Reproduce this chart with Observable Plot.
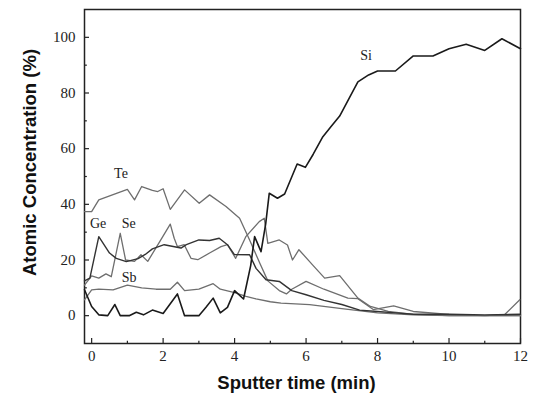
<!DOCTYPE html>
<html><head><meta charset="utf-8">
<script src="https://cdn.jsdelivr.net/npm/d3@7"></script>
<script src="https://cdn.jsdelivr.net/npm/@observablehq/plot@0.6"></script>
<style>body{margin:0;background:#fff}</style>
</head><body><div id="chart"></div>
<script>
// Sputter time (min) and atomic concentration (%) per element
const siT = [-0.2,0,0.2,0.45,0.65,0.8,1.05,1.25,1.45,1.7,2.0,2.4,2.6,3.0,3.2,3.4,3.6,3.8,4.0,4.25,4.45,4.56,4.74,4.87,4.97,5.2,5.4,5.75,5.98,6.2,6.47,6.7,6.94,7.2,7.45,7.75,8.0,8.5,9.0,9.55,10.0,10.48,11.0,11.48,12.0];
const siV = [9.3,3.3,0.3,0,4,0,0,1.2,0.3,2,0.8,7.8,0,0,3,6.3,1,3,9,6,18,28.4,23,33,44,42.2,43.7,54.5,53.3,58,64.3,68,71.7,78,84,86.5,87.9,87.9,93.3,93.3,95.9,97.5,95.3,99.5,95.9];

const geT = [-0.2,-0.05,0.2,0.5,0.69,0.97,1.3,1.5,1.7,2.03,2.5,2.65,3.0,3.3,3.57,3.8,3.99,4.42,4.6,4.88,5.25,5.6,6.0,6.5,7.0,7.5,8.0,8.5,9.0,10.0,11.0,12.0];
const geV = [12.5,13.5,28.4,22.5,20.6,19.4,20.5,22,24,25.5,24.3,25.5,27.2,27,27.8,25.5,22,21.9,17,12.9,12.3,9,7.5,5.5,4,2,1.5,1,0.5,0.5,0.3,0.5];

const seT = [-0.2,0,0.2,0.4,0.55,0.8,0.95,1.2,1.38,1.57,1.99,2.2,2.31,2.4,2.59,2.78,2.97,3.3,3.62,3.8,4.03,4.32,4.69,4.83,4.93,5.25,5.48,5.62,5.8,6.2,6.52,6.94,7.45,7.8,8.3,9.0,10.0,12.0];
const seV = [11,14.3,13.5,15,14,29.6,20,19.5,21.9,19.5,28.4,32.9,27.8,24.8,25.5,20.6,20.1,22.5,24.8,25.5,20.6,28.5,33.8,35,26,27.2,25.4,20,23.7,18,13.5,14.4,6.3,3.3,1.5,0.5,0,0];

const teT = [-0.2,0,0.2,0.6,1.0,1.2,1.4,1.7,1.85,2.0,2.2,2.6,3.01,3.3,3.76,4.14,4.42,4.7,4.93,5.25,5.45,5.6,6.0,6.5,7.17,7.45,7.88,8.45,9.0,10.0,11.0,11.56,11.98];
const teV = [37.4,37.4,41.6,43.5,45.4,41.6,46.4,45,44.6,45.6,38.2,45.2,40.4,43.4,39.2,35,27.2,19,12.5,9,7.8,9.5,12.3,9.5,6.3,6.1,2.2,3.5,1.5,0.5,0,0.4,5.7];

const sbT = [-0.2,0,0.2,0.6,1.0,1.4,1.8,2.2,2.4,2.6,3.0,3.4,3.6,4.0,4.32,4.6,5.0,5.3,6.1,7.0,8.0,9.0,10.0,12.0];
const sbV = [5.7,9.3,9.5,9.3,11,10,9.5,9.5,12,9,9.5,11.5,9.5,8.3,6.9,6,5,4.5,4,2.5,1,0.3,0,0];

// In-plot labels
const labelNames = ["Si","Te","Ge","Se","Sb"];
const labelT = [7.68,0.82,0.18,1.04,1.05];
const labelV = [93.5,51,33,33,13.6];

// Ticks
const xMajor = [0,2,4,6,8,10,12];
const xMinor = [1,3,5,7,9,11];
const yMajor = [0,20,40,60,80,100];
const yMinor = [10,30,50,70,90];

const series = [
  {name:"Sb", t:sbT, v:sbV, stroke:"#6e6e6e", w:1.3},
  {name:"Te", t:teT, v:teV, stroke:"#6e6e6e", w:1.3},
  {name:"Se", t:seT, v:seV, stroke:"#6e6e6e", w:1.3},
  {name:"Ge", t:geT, v:geV, stroke:"#333", w:1.4},
  {name:"Si", t:siT, v:siV, stroke:"#1a1a1a", w:1.6}
];

const labels = labelNames.map((n,i)=>({n, t:labelT[i], v:labelV[i]}));

const marks = [
  Plot.frame({stroke:"#222", strokeWidth:1.5}),
  Plot.axisX({ticks:xMajor, tickSize:0, tickPadding:7, label:null, fontFamily:"Liberation Serif", fontSize:15, fill:"#222"}),
  Plot.axisY({ticks:yMajor, tickSize:0, tickPadding:9, label:null, fontFamily:"Liberation Serif", fontSize:15, fill:"#222"}),
  Plot.ruleX(xMajor, {x:d=>d, y1:-10, y2:-8.2, stroke:"#222", strokeWidth:1.2}),
  Plot.ruleX(xMinor, {x:d=>d, y1:-10, y2:-9.2, stroke:"#222", strokeWidth:1.2}),
  Plot.ruleY(yMajor, {y:d=>d, x1:-0.2, x2:-0.06, stroke:"#222", strokeWidth:1.2}),
  Plot.ruleY(yMinor, {y:d=>d, x1:-0.2, x2:-0.12, stroke:"#222", strokeWidth:1.2}),
  ...series.map(s => Plot.line(s.t.map((t,i)=>({t, v:s.v[i]})), {x:"t", y:"v", stroke:s.stroke, strokeWidth:s.w, strokeLinejoin:"round"})),
  Plot.text(labels, {x:"t", y:"v", text:"n", fontFamily:"Liberation Serif", fontSize:14, fill:"#222"}),
  Plot.text(["Sputter time (min)"], {frameAnchor:"bottom", dx:-6, dy:45, text:d=>d, fontFamily:"Liberation Sans", fontWeight:"bold", fontSize:18.5, fill:"#111"}),
  Plot.text(["Atomic Concentration (%)"], {frameAnchor:"left", textAnchor:"middle", dx:-54, dy:-14, rotate:-90, text:d=>d, fontFamily:"Liberation Sans", fontWeight:"bold", fontSize:18.5, fill:"#111"})
];

const chart = Plot.plot({
  width:533, height:400,
  marginLeft:84, marginRight:13, marginTop:9, marginBottom:57,
  x:{domain:[-0.2,12]},
  y:{domain:[-10,110]},
  style:{background:"#fff", overflow:"visible"},
  marks
});
document.getElementById("chart").appendChild(chart);
</script>
</body></html>
